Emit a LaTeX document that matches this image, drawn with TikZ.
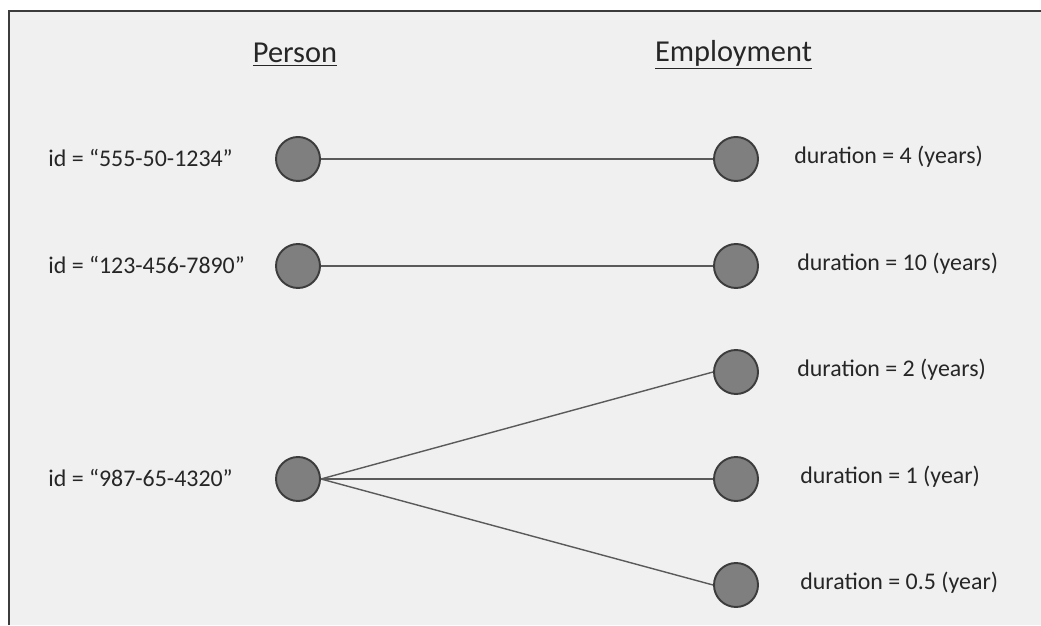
\documentclass[tikz,border=0pt]{standalone}
\usepackage{fontspec}
\setmainfont{Carlito}
\usepackage{tikz}
\usetikzlibrary{positioning}
\usepackage{xcolor}
\definecolor{bggray}{HTML}{F0F0F0}
\definecolor{dotgray}{HTML}{7F7F7F}
\definecolor{rimgray}{HTML}{3C3C3C}
\definecolor{linkgray}{HTML}{5A5A5A}
\definecolor{txtgray}{HTML}{262626}

\begin{document}
\begin{tikzpicture}[
  dot/.style={circle, fill=dotgray, draw=rimgray, line width=1.1pt, minimum size=0.88cm, inner sep=0pt},
  lbl/.style={anchor=west, text=txtgray, inner sep=0pt, font=\fontsize{13.6}{16}\selectfont},
  head/.style={text=txtgray, inner sep=0pt, font=\fontsize{17.3}{20}\selectfont},
  link/.style={draw=linkgray, line width=0.8pt}
]
\useasboundingbox (0,0) rectangle (20.82,12.5);

\fill[bggray] (0.18,0) rectangle (20.82,12.28);
\draw[rimgray, line width=1.2pt] (0.18,0) -- (0.18,12.28) -- (20.82,12.28);

\node[head] (hperson) at (5.9,11.4) {\underline{Person}};
\node[head] (hemploy) at (14.67,11.4) {\underline{Employment}};

% people
\node[dot] (p1) at (5.96,9.32) {};
\node[dot] (p2) at (5.96,7.18) {};
\node[dot] (p3) at (5.96,2.92) {};

\node[lbl] (id1) at (0.96,9.34) {id = “555-50-1234”};
\node[lbl] (id2) at (0.96,7.2) {id = “123-456-7890”};
\node[lbl] (id3) at (0.96,2.94) {id = “987-65-4320”};

% employments
\node[dot] (e1) at (14.72,9.32) {};
\node[dot] (e2) at (14.72,7.18) {};
\node[dot] (e3) at (14.72,5.06) {};
\node[dot] (e4) at (14.72,2.92) {};
\node[dot] (e5) at (14.72,0.80) {};

\node[lbl] (d1) at (15.88,9.36) {duration = 4 (years)};
\node[lbl] (d2) at (15.94,7.22) {duration = 10 (years)};
\node[lbl] (d3) at (15.94,5.1) {duration = 2 (years)};
\node[lbl] (d4) at (16.0,2.96) {duration = 1 (year)};
\node[lbl] (d5) at (16.0,0.84) {duration = 0.5 (year)};

\draw[link] (p1.east) -- (e1.west);
\draw[link] (p2.east) -- (e2.west);
\draw[link] (p3.east) -- (e3.west);
\draw[link] (p3.east) -- (e4.west);
\draw[link] (p3.east) -- (e5.west);

\end{tikzpicture}
\end{document}
